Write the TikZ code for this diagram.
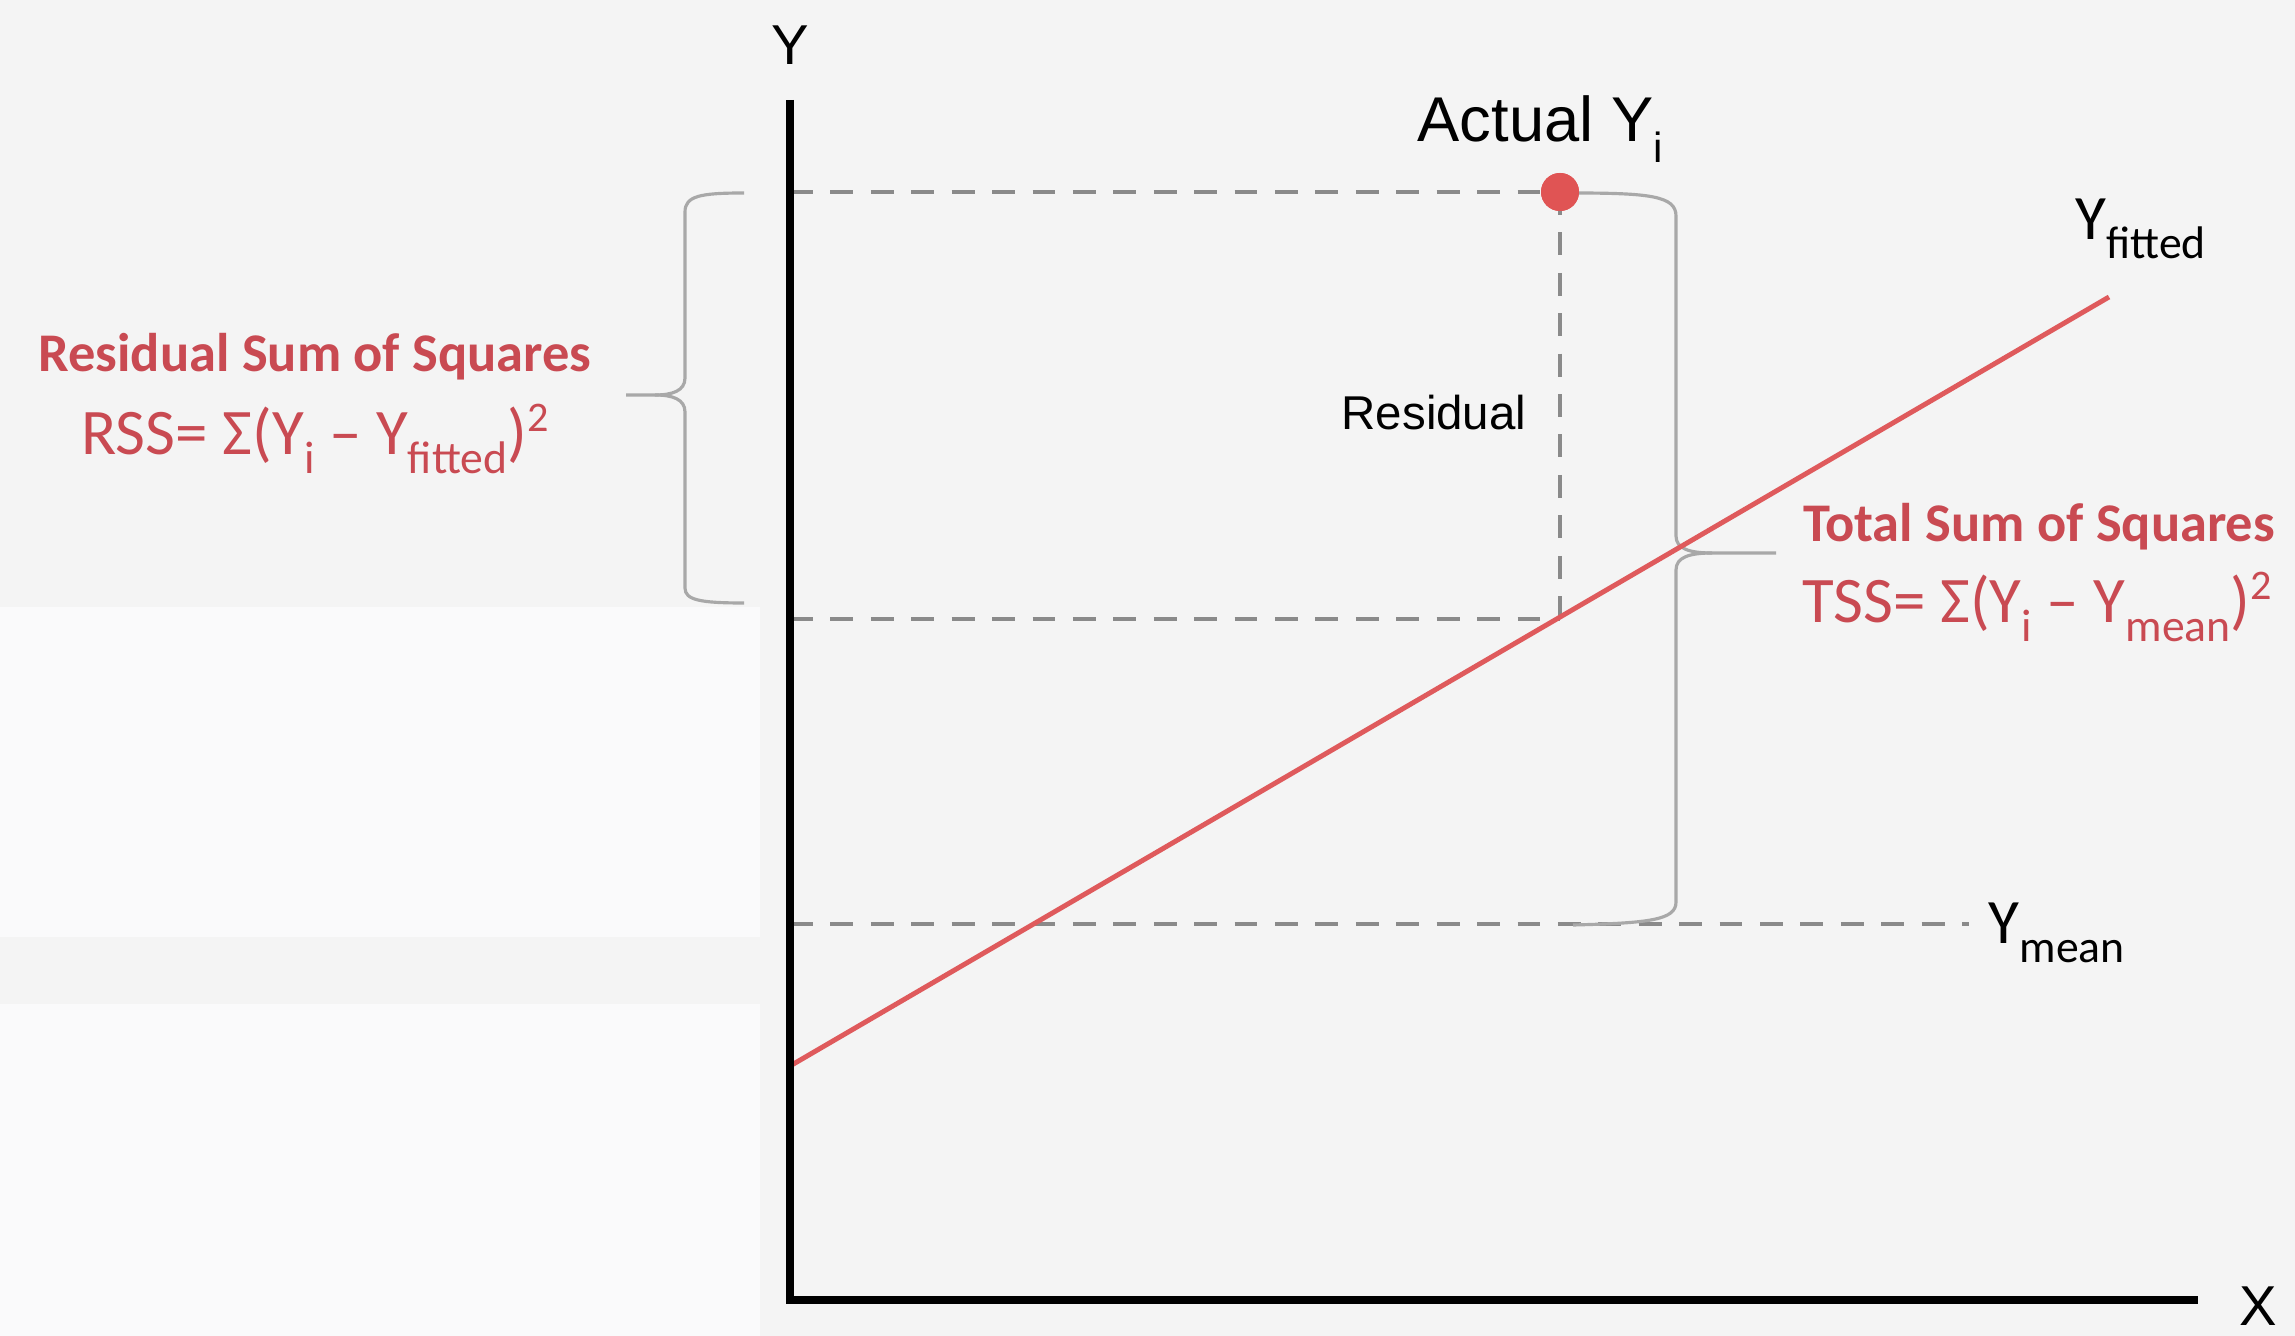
\documentclass[tikz,border=0pt]{standalone}
\usepackage{fontspec}
\setmainfont{Liberation Sans}
\newfontfamily\carlito{Carlito}
\definecolor{bggray}{HTML}{F4F4F4}
\definecolor{bgwhite}{HTML}{FAFAFB}
\definecolor{dashgray}{HTML}{8A8A8A}
\definecolor{bracegray}{HTML}{A8A8A8}
\definecolor{linered}{HTML}{DF5A5C}
\definecolor{dotred}{HTML}{E05454}
\definecolor{txtred}{HTML}{C94A52}
\newcommand{\mysub}[2][13]{\raisebox{-0.6ex}{\fontsize{#1}{#1}\selectfont #2}}
\newcommand{\mysup}[2][12]{\raisebox{0.75ex}{\fontsize{#1}{#1}\selectfont #2}}
\begin{document}
\begin{tikzpicture}[x=0.1mm,y=-0.1mm,
  dashline/.style={draw=dashgray, line width=1.4pt, dash pattern=on 6.5pt off 5pt},
  axisline/.style={draw=black, line width=2.1pt},
  bracepath/.style={draw=bracegray, line width=0.9pt},
  blacklab/.style={text=black, inner sep=0pt},
  redhead/.style={text=txtred, inner sep=0pt, font=\carlito\bfseries\fontsize{15.5}{18}\selectfont},
  redform/.style={text=txtred, inner sep=0pt, font=\carlito\fontsize{18.5}{22}\selectfont}]
\useasboundingbox (0,0) rectangle (2295,1336);
\fill[bggray] (0,0) rectangle (2295,1336);
\fill[bgwhite] (0,607) rectangle (760,937);
\fill[bgwhite] (0,1004) rectangle (760,1336);
% coordinates
\coordinate (O) at (790,1300);
\coordinate (ytop) at (790,100);
\coordinate (xend) at (2198,1300);
\coordinate (top0) at (790,192);
\coordinate (mid0) at (790,619);
\coordinate (mid1) at (1560,619);
\coordinate (mean0) at (790,924);
\coordinate (mean1) at (1969,924);
\coordinate (fitA) at (790,1066);
\coordinate (fitB) at (2109,297);
\node[circle, fill=dotred, minimum size=3.8mm, inner sep=0pt] (dot) at (1560,192) {};
% dashed lines
\draw[dashline] (top0) -- (dot.center);
\draw[dashline] (dot.center) -- (mid1);
\draw[dashline] (mid0) -- (mid1);
\draw[dashline] (mean0) -- (mean1);
% braces
\draw[bracepath] (1573,193) .. controls (1650,193) and (1676,196) .. (1676,216) -- (1676,536)
  .. controls (1676,549) and (1690,553) .. (1712,553) -- (1776,553);
\draw[bracepath] (1712,553) .. controls (1690,553) and (1676,557) .. (1676,570) -- (1676,902)
  .. controls (1676,920) and (1650,923) .. (1573,925);
\draw[bracepath] (744,193) .. controls (700,193) and (685,196) .. (685,212) -- (685,378)
  .. controls (685,391) and (672,395) .. (655,395) -- (626,395);
\draw[bracepath] (655,395) .. controls (672,395) and (685,399) .. (685,412) -- (685,588)
  .. controls (685,600) and (700,603) .. (744,603);
% fitted line
\draw[draw=linered, line width=1.4pt] (fitA) -- (fitB);
% axes
\draw[axisline] (ytop) -- (O) -- (xend);
\node[circle, fill=dotred, minimum size=3.8mm, inner sep=0pt] at (dot) {};
% labels
\node[blacklab, font=\fontsize{16}{18}\selectfont] (ylab) at (790,45) {Y};
\node[blacklab, font=\fontsize{16}{18}\selectfont] (xlab) at (2258,1306) {X};
\node[blacklab, font=\fontsize{18}{20}\selectfont, anchor=base west] (actual) at (1417,142) {Actual Y\mysub[12]{i}};
\node[blacklab, font=\fontsize{13.5}{16}\selectfont] (resid) at (1434,413) {Residual};
\node[blacklab, font=\carlito\fontsize{18}{20}\selectfont, anchor=base west] (yfit) at (2075,240) {Y\mysub[13]{fitted}};
\node[blacklab, font=\carlito\fontsize{18}{20}\selectfont, anchor=base west] (ymean) at (1988,944) {Y\mysub[13]{mean}};
\node[redhead] (rsshead) at (315,357) {Residual Sum of Squares};
\node[redform] (rssform) at (315,439) {RSS= Σ(Y\mysub{i} – Y\mysub{fitted})\mysup{2}};
\node[redhead] (tsshead) at (2039,527) {Total Sum of Squares};
\node[redform] (tssform) at (2037,607) {TSS= Σ(Y\mysub{i} – Y\mysub{mean})\mysup{2}};
\end{tikzpicture}
\end{document}
